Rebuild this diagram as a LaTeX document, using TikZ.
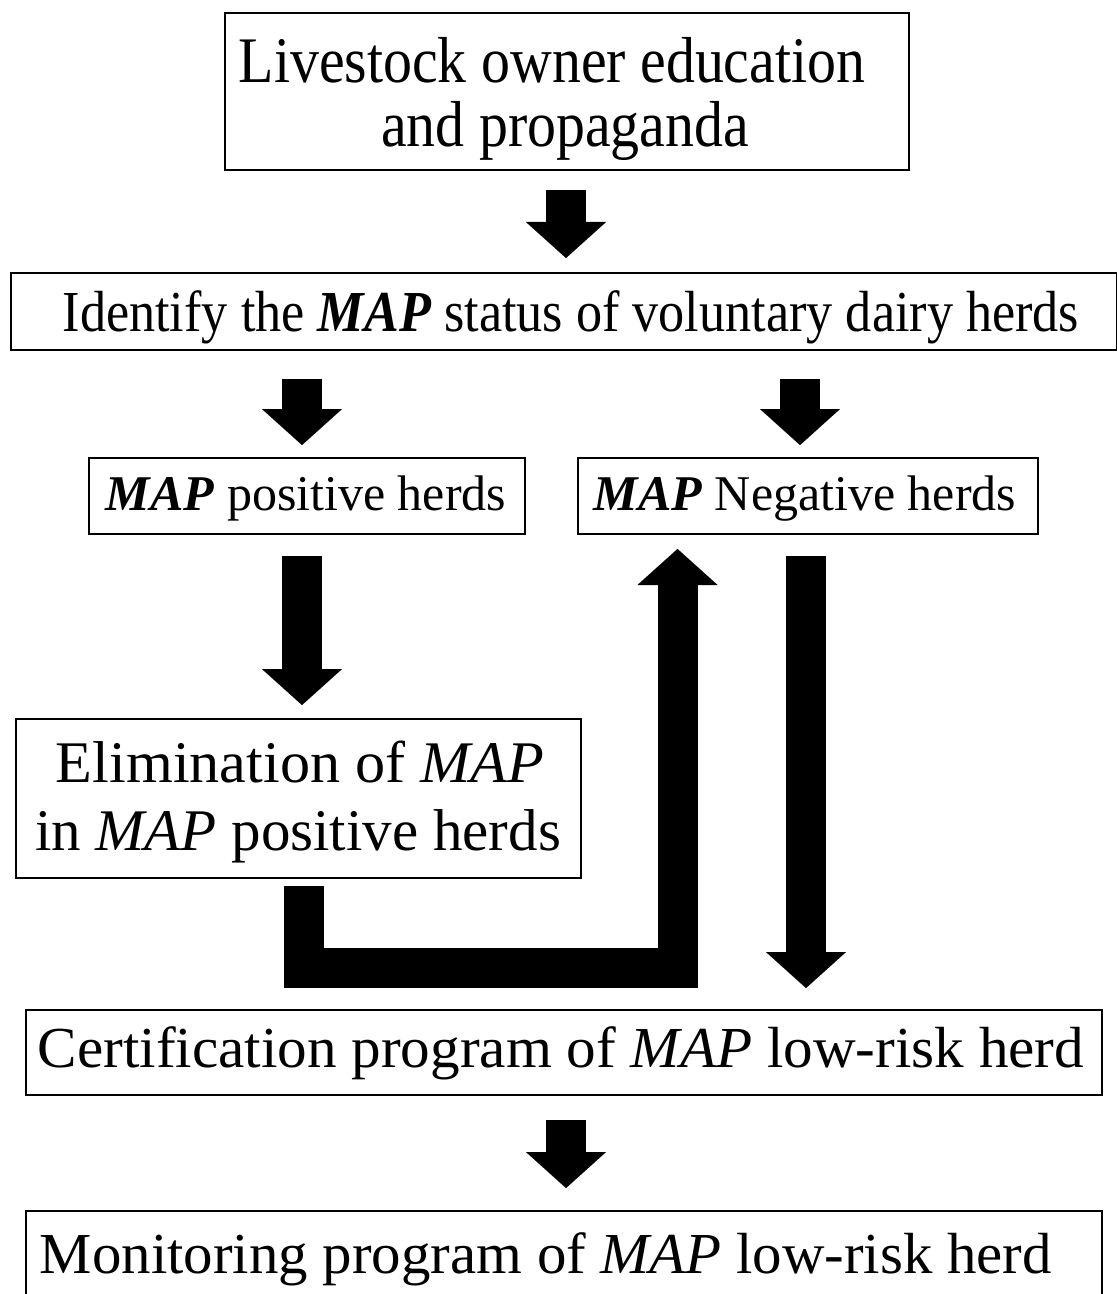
\documentclass[tikz,border=0pt]{standalone}
\usepackage{fontspec}
\setmainfont{Liberation Serif}
\usetikzlibrary{arrows.meta,calc}
\newcommand\MAPbi{\textbf{\textit{MAP}}}
\newcommand\MAPit{\textit{MAP}}
\newcommand\setfs[1]{\fontsize{#1}{#1}\selectfont}
\begin{document}
\begin{tikzpicture}[x=0.5pt,y=-0.5pt,
  box/.style={draw, line width=1pt, inner sep=0pt, anchor=north west},
  lbl/.style={inner sep=0pt, anchor=base},
  blockarrow/.style={line width=20pt, line join=miter,
    -{Triangle[width=40pt,length=18pt,line width=0.01pt]}}]
\path[use as bounding box, fill=white] (0,0) rectangle (1117,1294);

% boxes
\node[box, minimum width=342pt, minimum height=78.5pt] (top) at (224,12) {};
\node[box, minimum width=553pt, minimum height=38.5pt] (ident) at (10,272) {};
\node[box, minimum width=218pt, minimum height=38pt] (pos) at (88,457) {};
\node[box, minimum width=230pt, minimum height=38pt] (neg) at (577,457) {};
\node[box, minimum width=282.5pt, minimum height=79.5pt] (elim) at (15,718) {};
\node[box, minimum width=538pt, minimum height=42.5pt] (cert) at (25,1009) {};
\node[box, minimum width=538pt, minimum height=50pt] (mon) at (25,1210) {};

% texts
\node[lbl] (t1a) at (552,83) {\setfs{32.5}\scalebox{0.89}[1]{Livestock owner education}};
\node[lbl] (t1b) at (565,147) {\setfs{32.5}\scalebox{0.89}[1]{and propaganda}};
\node[lbl] (t2) at (571,332) {\setfs{29}\scalebox{0.90}[1]{Identify the \MAPbi{} status of voluntary dairy herds}};
\node[lbl] (t3) at (306,510) {\setfs{25}\MAPbi{} positive herds};
\node[lbl] (t4) at (805,510) {\setfs{25}\MAPbi{} Negative herds};
\node[lbl] (t5a) at (300,782) {\setfs{29.5}\scalebox{1.02}[1]{Elimination of \MAPit}};
\node[lbl] (t5b) at (298,850) {\setfs{29.5}\scalebox{1.0}[1]{in \MAPit{} positive herds}};
\node[lbl] (t6) at (561,1067) {\setfs{29}\scalebox{1.02}[1]{Certification program of \MAPit{} low-risk herd}};
\node[lbl] (t7) at (546,1273) {\setfs{29}\scalebox{1.015}[1]{Monitoring program of \MAPit{} low-risk herd}};

% connectors
\draw[blockarrow] ($(top.south)+(-1,19)$) -- ($(top.south |- ident.north)+(-1,-14)$);
\draw[blockarrow] ($(ident.south -| pos.north)+(-5,28)$) -- ($(pos.north)+(-5,-12)$);
\draw[blockarrow] ($(ident.south -| neg.north)+(-8,28)$) -- ($(neg.north)+(-8,-12)$);
\draw[blockarrow] ($(pos.south)+(-5,21)$) -- ($(pos.south |- elim.north)+(-5,-13)$);
\draw[blockarrow] ($(neg.south)+(-2,21)$) -- ($(neg.south |- cert.north)+(-2,-21)$);
\draw[blockarrow] ($(elim.south)+(5,7)$) -- ++(0,82) -| ($(neg.south)+(-130.5,14)$);
\draw[blockarrow] ($(cert.south)+(2,24)$) -- ($(cert.south |- mon.north)+(2,-22)$);
\end{tikzpicture}
\end{document}
